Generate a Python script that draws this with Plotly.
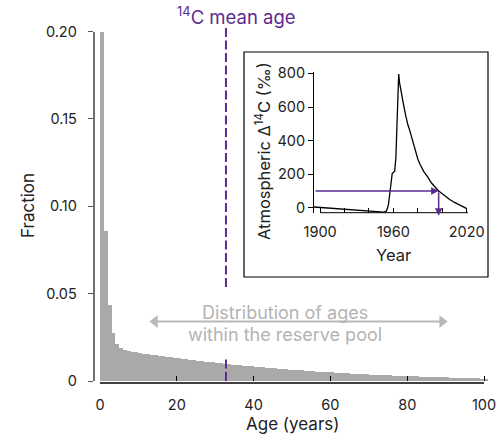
import plotly.graph_objects as go

# ---------------- data ----------------
ages = list(range(0, 101))
fraction = [
    0.200, 0.086, 0.044, 0.028, 0.0215, 0.0193, 0.0182, 0.0175, 0.0170, 0.0166,
    0.0162, 0.0159, 0.0156, 0.0153, 0.0150, 0.0147, 0.0144, 0.0141, 0.0138, 0.0135,
    0.0132, 0.0129, 0.0127, 0.0124, 0.0121, 0.0119, 0.0116, 0.0114, 0.0111, 0.0109,
    0.0106, 0.0104, 0.0101, 0.0099, 0.0097, 0.0095, 0.0093, 0.0091, 0.0089, 0.0087,
    0.0085, 0.0083, 0.0081, 0.0079, 0.0077, 0.0075, 0.0073, 0.0072, 0.0070, 0.0068,
    0.0067, 0.0065, 0.0063, 0.0062, 0.0060, 0.0059, 0.0057, 0.0056, 0.0054, 0.0053,
    0.0052, 0.0050, 0.0049, 0.0048, 0.0047, 0.0045, 0.0044, 0.0043, 0.0042, 0.0041,
    0.0040, 0.0039, 0.0038, 0.0037, 0.0036, 0.0035, 0.0034, 0.0033, 0.0032, 0.0031,
    0.0030, 0.0029, 0.0029, 0.0028, 0.0027, 0.0026, 0.0026, 0.0025, 0.0024, 0.0023,
    0.0023, 0.0022, 0.0021, 0.0021, 0.0020, 0.0020, 0.0019, 0.0018, 0.0018, 0.0017,
    0.0017,
]
mean_age = 32.8
x_ticks = [0, 20, 40, 60, 80, 100]
y_ticks = [0, 0.05, 0.10, 0.15, 0.20]
y_ticktext = ["0", "0.05", "0.10", "0.15", "0.20"]
span_arrow_x = [14.3, 89.1]        # "distribution of ages" double arrow ends
span_arrow_y = [0.034, 0.034]

years = [1895, 1952, 1954, 1955, 1956, 1957, 1958, 1959, 1960, 1961, 1962,
         1962.7, 1963.4, 1963.9, 1964.3, 1965, 1966, 1968, 1970, 1971, 1972,
         1973, 1974, 1976, 1978, 1980, 1982, 1985, 1988, 1991, 1994, 1997,
         2000, 2003, 2006, 2010, 2014, 2018, 2020]
delta14c = [6, -24, -20, -5, 25, 80, 160, 205, 212, 218, 300,
            480, 650, 785, 796, 745, 700, 625, 550, 515, 490,
            470, 445, 390, 330, 290, 255, 215, 185, 150, 125, 101,
            84, 66, 50, 33, 18, 4, -4]
inset_xticks = [1900, 1960, 2020]
inset_minor_xticks = [1920, 1940, 1980, 2000]
inset_yticks = [0, 200, 400, 600, 800]
# read-off arrows: from y axis to the curve, then down to the time axis
read_start_year = 1895
read_year = 1997
read_value = 101
read_bottom = -46

# ---------------- layout helpers ----------------
W, H = 500, 437
def fx(px):
    return px / W
def fy(py):
    return 1 - py / H

purple = "#5b2a8e"
grey_txt = "#b3b3b3"
grey_arrow = "#b8b8b8"
dark = "#222222"
FONT = "Inter"

fig = go.Figure()
fig.add_trace(go.Bar(x=ages, y=fraction, width=1, offset=0,
                     marker=dict(color="#a9a9a9", line=dict(width=0)),
                     xaxis="x", yaxis="y", showlegend=False, hoverinfo="skip"))
fig.add_trace(go.Scatter(x=span_arrow_x, y=span_arrow_y, mode="lines+markers",
                         line=dict(color=grey_arrow, width=2),
                         marker=dict(symbol=["triangle-left", "triangle-right"], size=11,
                                     color=grey_arrow, line=dict(width=0)),
                         cliponaxis=False, xaxis="x", yaxis="y", showlegend=False))
fig.add_trace(go.Scatter(x=years, y=delta14c, mode="lines",
                         line=dict(color="black", width=1.3),
                         xaxis="x2", yaxis="y2", showlegend=False))

fig.update_layout(
    width=W, height=H, margin=dict(l=0, r=0, t=0, b=0, pad=0, autoexpand=False),
    paper_bgcolor="white", plot_bgcolor="rgba(0,0,0,0)",
    font=dict(family=FONT, size=14, color=dark),
    bargap=0,
    xaxis=dict(domain=[fx(100), fx(489.8)], range=[0, 101.5], anchor="y",
               showgrid=False, zeroline=False, showline=False,
               ticks="inside", ticklen=5, tickwidth=1.2, tickcolor="black",
               tickvals=x_ticks, ticklabelstandoff=13, tickfont=dict(size=14.5)),
    yaxis=dict(domain=[fy(381), fy(31.5)], range=[0, 0.2], anchor="free",
               position=fx(93.5), showgrid=False, zeroline=False,
               showline=True, linecolor="#707070", linewidth=1.5,
               ticks="outside", ticklen=5, tickwidth=1.2, tickcolor="#555",
               tickvals=y_ticks, ticktext=y_ticktext, ticklabelstandoff=8,
               tickfont=dict(size=14.5)),
    xaxis2=dict(domain=[fx(314), fx(469.2)], range=[1895, 2022], anchor="y2",
                showgrid=False, zeroline=False, showline=False,
                ticks="inside", ticklen=5, tickwidth=1, tickcolor="black",
                tickvals=inset_xticks, ticklabelstandoff=9, tickfont=dict(size=14.5),
                minor=dict(ticks="inside", ticklen=5, tickwidth=1, tickcolor="black",
                           tickvals=inset_minor_xticks, showgrid=False)),
    yaxis2=dict(domain=[fy(212.7), fy(71.7)], range=[-28, 810], anchor="x2",
                showgrid=False, zeroline=False, showline=True,
                linecolor="black", linewidth=1,
                ticks="outside", ticklen=5, tickwidth=1, tickcolor="black",
                tickvals=inset_yticks, tickfont=dict(size=14.5)),
)

shapes = []
# main x axis line (0..100)
shapes.append(dict(type="line", xref="x", yref="paper", x0=x_ticks[0], x1=x_ticks[-1],
                   y0=fy(383), y1=fy(383), line=dict(color="black", width=1.5)))
# mean-age dashed line (upper and lower parts)
shapes.append(dict(type="line", xref="x", yref="paper", x0=mean_age, x1=mean_age,
                   y0=fy(28), y1=fy(287), line=dict(color=purple, width=2, dash="9px,3.5px")))
shapes.append(dict(type="line", xref="x", yref="paper", x0=mean_age, x1=mean_age,
                   y0=fy(381), y1=fy(356), line=dict(color=purple, width=2, dash="9px,3.5px")))
# inset box
shapes.append(dict(type="rect", xref="paper", yref="paper", x0=fx(244), x1=fx(488),
                   y0=fy(277), y1=fy(52), line=dict(color="black", width=1.2)))
# inset x axis line
shapes.append(dict(type="line", xref="x2", yref="paper", x0=inset_xticks[0], x1=2021,
                   y0=fy(212.7), y1=fy(212.7), line=dict(color="black", width=1)))
fig.update_layout(shapes=shapes)

ann = []
ann.append(dict(xref="paper", yref="paper", x=fx(236), y=fy(16), text="<sup>14</sup>C mean age",
                showarrow=False, font=dict(size=18.5, color=purple), xanchor="center", yanchor="middle"))
ann.append(dict(xref="paper", yref="paper", x=fx(28), y=fy(206), text="Fraction", textangle=-90,
                showarrow=False, font=dict(size=17, color=dark), xanchor="center", yanchor="middle"))
ann.append(dict(xref="paper", yref="paper", x=fx(292), y=fy(424), text="Age (years)",
                showarrow=False, font=dict(size=17, color=dark), xanchor="center", yanchor="middle"))
ann.append(dict(xref="paper", yref="paper", x=fx(285), y=fy(312), text="Distribution of ages",
                showarrow=False, font=dict(size=18, color=grey_txt), xanchor="center", yanchor="middle"))
ann.append(dict(xref="paper", yref="paper", x=fx(285), y=fy(334), text="within the reserve pool",
                showarrow=False, font=dict(size=18, color=grey_txt), xanchor="center", yanchor="middle"))
# inset labels
ann.append(dict(xref="paper", yref="paper", x=fx(393), y=fy(255), text="Year",
                showarrow=False, font=dict(size=16.5, color=dark), xanchor="center", yanchor="middle"))
ann.append(dict(xref="paper", yref="paper", x=fx(263), y=fy(151), text="Atmospheric Δ<sup>14</sup>C (‰)",
                textangle=-90, showarrow=False, font=dict(size=16.5, color=dark),
                xanchor="center", yanchor="middle"))
# inset purple read-off arrows
ann.append(dict(xref="x2", yref="y2", x=read_year, y=read_value, ax=read_start_year, ay=read_value,
                axref="x2", ayref="y2", text="", showarrow=True, arrowhead=2, arrowsize=1,
                arrowwidth=1.5, arrowcolor=purple))
ann.append(dict(xref="x2", yref="y2", x=read_year, y=read_bottom, ax=read_year, ay=read_value,
                axref="x2", ayref="y2", text="", showarrow=True, arrowhead=2, arrowsize=1,
                arrowwidth=1.5, arrowcolor=purple))
fig.update_layout(annotations=ann)

fig.write_html("out.html")
